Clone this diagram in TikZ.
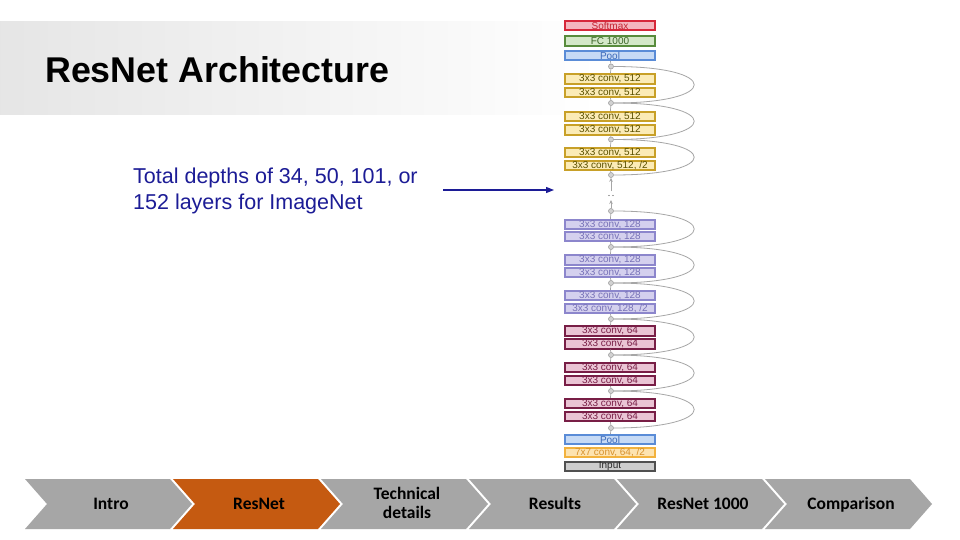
\documentclass[tikz,border=0pt]{standalone}
\usepackage{fontspec}
\setmainfont{Liberation Sans}
\newfontfamily\chevfont{Carlito}
\usetikzlibrary{arrows.meta}
\definecolor{titleblue}{RGB}{28,28,150}
\definecolor{chevgray}{RGB}{166,166,166}
\definecolor{chevorange}{RGB}{197,90,17}
\definecolor{smD}{RGB}{214,40,58}\definecolor{smF}{RGB}{244,182,190}\definecolor{smT}{RGB}{196,36,50}
\definecolor{fcD}{RGB}{88,140,60}\definecolor{fcF}{RGB}{212,232,200}\definecolor{fcT}{RGB}{60,100,40}
\definecolor{plD}{RGB}{90,140,215}\definecolor{plF}{RGB}{198,218,245}\definecolor{plT}{RGB}{60,105,185}
\definecolor{yD}{RGB}{200,160,40}\definecolor{yF}{RGB}{251,235,182}\definecolor{yT}{RGB}{90,80,0}
\definecolor{pD}{RGB}{140,134,204}\definecolor{pF}{RGB}{212,208,238}\definecolor{pT}{RGB}{120,114,184}
\definecolor{mD}{RGB}{120,30,70}\definecolor{mF}{RGB}{234,196,212}\definecolor{mT}{RGB}{120,30,70}
\definecolor{oD}{RGB}{242,178,62}\definecolor{oF}{RGB}{253,227,176}\definecolor{oT}{RGB}{215,145,45}
\definecolor{iD}{RGB}{80,80,80}\definecolor{iF}{RGB}{205,205,205}\definecolor{iT}{RGB}{40,40,40}
\tikzset{
  blk/.style={draw, line width=1.6pt, minimum width=90pt, minimum height=9.5pt, inner sep=0pt,
    font=\fontsize{10}{10}\selectfont},
  smbox/.style={blk, draw=smD, fill=smF, text=smT},
  fcbox/.style={blk, draw=fcD, fill=fcF, text=fcT},
  poolbox/.style={blk, draw=plD, fill=plF, text=plT},
  ybox/.style={blk, draw=yD, fill=yF, text=yT},
  pbox/.style={blk, draw=pD, fill=pF, text=pT},
  mbox/.style={blk, draw=mD, fill=mF, text=mT},
  obox/.style={blk, draw=oD, fill=oF, text=oT},
  ibox/.style={blk, draw=iD, fill=iF, text=iT},
  junc/.style={circle, draw=gray!75, fill=gray!35, line width=0.6pt, inner sep=0pt, minimum size=5pt},
  link/.style={draw=gray!70, line width=0.7pt},
  skip/.style={draw=gray!70, line width=0.8pt},
  uparrow/.style={draw=gray!70, line width=0.8pt, -{Stealth[length=4pt,width=3.5pt]}},
  chevtext/.style={font=\chevfont\bfseries\fontsize{17.5}{19}\selectfont, align=center, text=black, anchor=base, inner sep=0pt}
}
\begin{document}
\begin{tikzpicture}[x=1pt,y=-1pt]
\useasboundingbox (0,0) rectangle (960,540);
\fill[white] (0,0) rectangle (960,540);
% title band
\shade[left color=gray!20, right color=white] (0,22) rectangle (600,115);
\node[anchor=base west, inner sep=0pt, font=\fontsize{35.8}{42}\selectfont\bfseries] (title) at (45,83) {ResNet Architecture};
% blue note
\node[anchor=base west, inner sep=0pt, align=left, text=titleblue, font=\fontsize{21.5}{26}\selectfont] (note) at (133,209) {Total depths of 34, 50, 101, or\\152 layers for ImageNet};
\coordinate (arS) at (443,190);
\coordinate (arE) at (554,190);
\draw[titleblue, line width=1.2pt, -{Triangle[length=8pt,width=6pt]}] (arS) -- (arE);

% column
\node[smbox] (sm) at (610,25.5) {Softmax};
\node[fcbox] (fc) at (610,41) {FC 1000};
\node[poolbox] (p1) at (610,55.5) {Pool};
\node[junc] (k1) at (611,66.5) {};
\node[ybox] (a1) at (610,79) {3x3 conv, 512};
\node[ybox] (a2) at (610,92.5) {3x3 conv, 512};
\node[junc] (k2) at (611,103) {};
\node[ybox] (a3) at (610,116.5) {3x3 conv, 512};
\node[ybox] (a4) at (610,130) {3x3 conv, 512};
\node[junc] (k3) at (611,139.5) {};
\node[ybox] (a5) at (610,152.5) {3x3 conv, 512};
\node[ybox] (a6) at (610,165.5) {3x3 conv, 512, /2};
\node[junc] (k4) at (611,175) {};
\node[junc] (k5) at (611,211) {};
\node[pbox] (b1) at (610,224.5) {3x3 conv, 128};
\node[pbox] (b2) at (610,236.5) {3x3 conv, 128};
\node[junc] (k6) at (611,247) {};
\node[pbox] (b3) at (610,260) {3x3 conv, 128};
\node[pbox] (b4) at (610,272.5) {3x3 conv, 128};
\node[junc] (k7) at (611,283) {};
\node[pbox] (b5) at (610,295.5) {3x3 conv, 128};
\node[pbox] (b6) at (610,308.5) {3x3 conv, 128, /2};
\node[junc] (k8) at (611,319) {};
\node[mbox] (d1) at (610,331) {3x3 conv, 64};
\node[mbox] (d2) at (610,344) {3x3 conv, 64};
\node[junc] (k9) at (611,355) {};
\node[mbox] (d3) at (610,367.5) {3x3 conv, 64};
\node[mbox] (d4) at (610,380.5) {3x3 conv, 64};
\node[junc] (k10) at (611,391) {};
\node[mbox] (d5) at (610,403.5) {3x3 conv, 64};
\node[mbox] (d6) at (610,416.5) {3x3 conv, 64};
\node[junc] (k11) at (611,428) {};
\node[poolbox] (p2) at (610,439.5) {Pool};
\node[obox] (cv) at (610,452.5) {7x7 conv, 64, /2};
\node[ibox] (in) at (610,466.5) {Input};

% vertical links
\draw[link] (p1) -- (k1) -- (a1); \draw[link] (a2) -- (k2) -- (a3);
\draw[link] (a4) -- (k3) -- (a5); \draw[link] (a6) -- (k4);
\draw[link] (k5) -- (b1); \draw[link] (b2) -- (k6) -- (b3);
\draw[link] (b4) -- (k7) -- (b5); \draw[link] (b6) -- (k8) -- (d1);
\draw[link] (d2) -- (k9) -- (d3); \draw[link] (d4) -- (k10) -- (d5);
\draw[link] (d6) -- (k11) -- (p2);

% gap arrows and dots
\coordinate (g1) at (611,191);
\coordinate (g2) at (611,200);
\draw[uparrow] (g1) -- (k4);
\draw[uparrow] (k5) -- (g2);
\fill[gray!60!black] (609,195.5) circle (0.7pt) (613,195.5) circle (0.7pt);

% skip connections
\foreach \s/\e in {k1/k2,k2/k3,k3/k4,k5/k6,k6/k7,k7/k8,k8/k9,k9/k10,k10/k11}{
  \draw[skip] (\s) .. controls +(110,0) and +(110,0) .. (\e);
}

% chevrons
\foreach \x/\nm/\txt/\col/\yb in {25/intro/Intro/chevgray/509, 173/resnet/ResNet/chevorange/509,
   321/tech/{Technical\\details}/chevgray/518, 469/res/Results/chevgray/509,
   617/rn1000/ResNet 1000/chevgray/509, 765/comp/Comparison/chevgray/509}{
  \fill[\col] (\x,479) -- ++(145,0) -- ++(22,25) -- ++(-22,25) -- ++(-145,0) -- ++(22,-25) -- cycle;
  \node[chevtext] (\nm) at (\x+86,\yb) {\txt};
}
\end{tikzpicture}
\end{document}
